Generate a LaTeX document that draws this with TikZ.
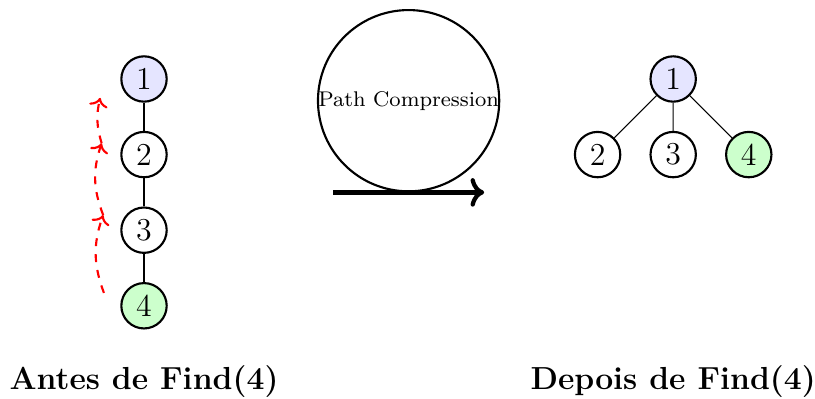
\documentclass[tikz,border=0pt]{standalone}
\usetikzlibrary{arrows.meta}
\begin{document}
\begin{tikzpicture}[
  elem/.style={circle, draw, thick, minimum size=0.6cm, inner sep=0pt, font=\large},
  rootnode/.style={elem, fill=blue!10},
  target/.style={elem, fill=green!20},
  jump/.style={->, red, dashed, thick},
  caption/.style={font=\large\bfseries}
]
\useasboundingbox (-1.905,1.045) rectangle (8.876,-4.22);

% before: the chain 4 -> 3 -> 2 -> 1
\node[rootnode] (a1) at (0,0) {1};
\node[elem]     (a2) at (0,-1) {2};
\node[elem]     (a3) at (0,-2) {3};
\node[target]   (a4) at (0,-3) {4};
\draw (a1) -- (a2) (a2) -- (a3) (a3) -- (a4);

% the walk up the chain during Find(4)
\coordinate (w4) at (-0.53,-2.83);
\coordinate (w3) at (-0.54,-1.80);
\coordinate (w2) at (-0.56,-0.85);
\coordinate (w1) at (-0.58,-0.25);
\draw[jump] (w4) to[bend left=20] (w3);
\draw[jump] (w3) to[bend left=20] (w2);
\draw[jump] (w2) to[bend left=15] (w1);

\node[caption] (capA) at (0,-4) {Antes de Find(4)};

% transition arrow
\coordinate (s) at (2.5,-1.5);
\coordinate (e) at (4.5,-1.5);
\draw[->, ultra thick] (s) -- node[above, circle, draw, thick, inner sep=0pt, font=\footnotesize] (pc) {Path Compression} (e);

% after: every node hangs directly from the root
\node[rootnode] (b1) at (7,0) {1};
\node[elem]     (b2) at (6,-1) {2};
\node[elem]     (b3) at (7,-1) {3};
\node[target]   (b4) at (8,-1) {4};
\draw (b1) -- (b2) (b1) -- (b3) (b1) -- (b4);

\node[caption] (capB) at (7,-4) {Depois de Find(4)};
\end{tikzpicture}
\end{document}
